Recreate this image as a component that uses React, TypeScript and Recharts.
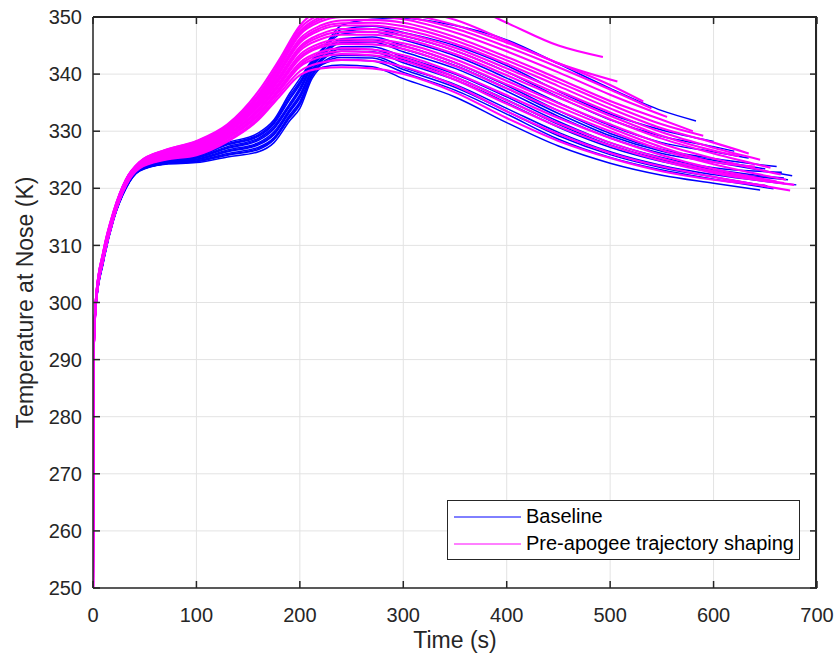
import React from "react";
import { LineChart, Line, XAxis, YAxis, CartesianGrid, Legend } from "recharts";

// time grid (s) shared by each bundle of runs
const baselineTimes = [0, 0.5, 3, 10, 20, 32, 45, 70, 100, 130, 160, 175, 190, 200, 212, 222, 240, 270, 300, 350, 400, 450, 500, 550, 600];
const shapingTimes = [0, 0.5, 3, 10, 20, 32, 45, 70, 100, 130, 160, 180, 200, 220, 240, 270, 300, 350, 400, 450, 500, 550, 600];

// nose temperature (K) per run
const baselineTemps = [
  [250, 290, 299.5, 307, 314.5, 320, 323, 324.2, 324.5, 325.5, 326.4, 328, 331.8, 334, 339.3, 341.2, 341.6, 341.3, 339.2, 336, 331.5, 327.4, 324.4, 322.3, 320.9],
  [250, 290, 299.6, 307.1, 314.6, 320.1, 323.1, 324.3, 324.7, 325.8, 326.8, 328.5, 332.3, 334.6, 339.7, 341.7, 342.5, 342.3, 340.3, 337.2, 333, 328.6, 325.4, 323.2, 321.6],
  [250, 290, 299.6, 307.2, 314.6, 320.1, 323.1, 324.3, 324.7, 325.9, 327, 328.7, 332.5, 334.9, 339.9, 341.9, 342.9, 342.8, 340.8, 337.7, 333.5, 329.2, 325.9, 323.6, 322],
  [250, 290, 299.7, 307.3, 314.7, 320.2, 323.2, 324.4, 324.8, 326.1, 327.2, 328.9, 332.8, 335.2, 340.1, 342.1, 343.3, 343.2, 341.2, 338.2, 334, 329.8, 326.4, 324, 322.4],
  [250, 290, 299.8, 307.4, 314.8, 320.3, 323.3, 324.5, 325, 326.4, 327.6, 329.4, 333.3, 335.8, 340.5, 342.5, 344, 343.9, 342, 339, 335, 330.7, 327.2, 324.7, 323],
  [250, 290, 299.8, 307.5, 314.8, 320.3, 323.3, 324.5, 325, 326.5, 327.8, 329.6, 333.5, 336.1, 340.7, 342.7, 344.4, 344.3, 342.5, 339.5, 335.5, 331.2, 327.6, 325, 323.3],
  [250, 290, 299.9, 307.6, 314.9, 320.4, 323.4, 324.6, 325.1, 326.7, 328, 329.9, 333.8, 336.4, 340.9, 342.9, 344.8, 344.8, 343, 340, 336, 331.7, 328, 325.4, 323.6],
  [250, 290, 300, 307.7, 315, 320.5, 323.5, 324.7, 325.3, 327, 328.4, 330.4, 334.3, 337, 341.3, 343.3, 345.5, 345.6, 343.9, 341, 337, 332.6, 328.8, 326.1, 324.6],
  [250, 290, 300, 307.8, 315, 320.5, 323.5, 324.7, 325.3, 327.1, 328.6, 330.6, 334.5, 337.3, 341.5, 343.5, 345.9, 346, 344.4, 341.5, 337.5, 333.1, 329.2, 326.5, 324.9],
  [250, 290, 300.1, 307.9, 315.1, 320.6, 323.6, 324.8, 325.4, 327.3, 328.8, 330.9, 334.8, 337.6, 341.7, 343.7, 346.2, 346.5, 345, 342, 338, 333.6, 329.6, 326.8, 325.2],
  [250, 290, 300.2, 308, 315.2, 320.7, 323.7, 324.9, 325.6, 327.6, 329.1, 331.3, 335.5, 338.1, 342, 344.1, 347, 347.4, 346, 343.2, 339.3, 335, 331, 328, 326.4],
  [250, 290, 300.3, 308.1, 315.2, 320.7, 323.7, 324.9, 325.6, 327.7, 329.2, 331.5, 335.8, 338.4, 342.2, 344.2, 347.4, 347.9, 346.7, 344.1, 340.4, 336, 332, 329.1, 327.3],
  [250, 290, 300.4, 308.2, 315.3, 320.8, 323.8, 325, 325.7, 327.8, 329.4, 331.7, 336.2, 338.7, 342.3, 344.4, 347.8, 348.4, 347.3, 345, 341.5, 337, 333, 330.2],
  [250, 290, 300.5, 308.3, 315.3, 320.8, 323.8, 325, 325.8, 328, 329.7, 332, 336.6, 339.2, 342.5, 344.5, 348.5, 349.6, 349.8, 348.5, 346, 341.8, 337.5, 333.6],
];
const baselineEnds = [
  [645, 319.7], [658, 319.9], [652, 320.4], [680, 320.6], [672, 321.5], [668, 321.8], [666, 322.8],
  [676, 322.2], [650, 323.4], [661, 323.8], [634, 325.3], [620, 326.5], [600, 328.2], [583, 331.8],
];

const shapingTemps = [
  [250, 290, 300, 307.5, 314.8, 320.5, 323.5, 325, 325.8, 328.2, 332, 336, 339.8, 341, 341.2, 341, 340, 336.8, 332.3, 328.3, 325.3, 323, 321.5],
  [250, 290, 300.1, 307.6, 314.9, 320.6, 323.6, 325.1, 326, 328.4, 332.3, 336.5, 340.5, 342, 342.5, 342.3, 341.3, 338, 333.5, 329.5, 326.2, 323.8, 322],
  [250, 290, 300.2, 307.7, 315, 320.7, 323.7, 325.2, 326.2, 328.7, 332.7, 337, 341.3, 343, 343.5, 343.3, 342.3, 339, 334.8, 330.8, 327.5, 324.8, 322.7],
  [250, 290, 300.2, 307.7, 315, 320.7, 323.7, 325.3, 326.3, 328.9, 332.9, 337.3, 341.6, 343.5, 344, 343.8, 342.8, 339.5, 335.4, 331.4, 328, 325.2, 323],
  [250, 290, 300.3, 307.8, 315.1, 320.8, 323.8, 325.4, 326.4, 329, 333.1, 337.5, 342, 343.9, 344.5, 344.3, 343.3, 340.2, 336.3, 332.3, 328.8, 325.8, 323.4],
  [250, 290, 300.4, 308, 315.2, 320.9, 323.9, 325.6, 326.6, 329.3, 333.5, 338, 342.7, 344.7, 345.3, 345.2, 344.4, 341.4, 337.5, 333.6, 330, 326.7, 324.2],
  [250, 290, 300.4, 308, 315.2, 321, 324, 325.6, 326.7, 329.4, 333.7, 338.2, 343, 345, 345.7, 345.7, 344.9, 342, 338.2, 334.3, 330.6, 327.2, 324.6],
  [250, 290, 300.5, 308.1, 315.3, 321, 324, 325.7, 326.8, 329.5, 333.9, 338.5, 343.4, 345.4, 346.1, 346.1, 345.4, 342.6, 338.8, 334.9, 331.2, 327.8, 325.2],
  [250, 290, 300.6, 308.2, 315.4, 321.1, 324.1, 325.9, 327, 329.8, 334.3, 339, 344.1, 346.1, 346.9, 346.9, 346.2, 343.5, 339.8, 335.9, 332.1, 328.7, 326.1],
  [250, 290, 300.6, 308.3, 315.5, 321.2, 324.2, 326, 327.1, 329.9, 334.5, 339.3, 344.5, 346.6, 347.4, 347.4, 346.7, 344.1, 340.4, 336.5, 332.7, 329.2, 326.6],
  [250, 290, 300.7, 308.4, 315.5, 321.2, 324.2, 326, 327.2, 330, 334.7, 339.6, 344.8, 347, 347.9, 347.9, 347.2, 344.6, 341, 337.1, 333.3, 329.8, 327.1],
  [250, 290, 300.8, 308.5, 315.6, 321.3, 324.3, 326.2, 327.4, 330.3, 335, 340.1, 345.5, 347.7, 348.5, 348.5, 347.8, 345.3, 341.8, 337.9, 334, 330.5, 328],
  [250, 290, 300.8, 308.5, 315.6, 321.4, 324.4, 326.3, 327.5, 330.4, 335.2, 340.3, 345.8, 348.1, 348.9, 349, 348.4, 345.9, 342.4, 338.6, 334.7, 331.2],
  [250, 290, 300.9, 308.6, 315.7, 321.4, 324.4, 326.3, 327.6, 330.5, 335.4, 340.6, 346.2, 348.5, 349.4, 349.5, 349, 346.5, 343, 339.2, 335.3, 332],
  [250, 290, 301, 308.7, 315.8, 321.5, 324.5, 326.5, 327.8, 330.7, 335.8, 341.1, 346.9, 349.2, 350, 350.1, 349.6, 347.3, 344, 340.3, 336.4],
  [250, 290, 301, 308.8, 315.8, 321.5, 324.5, 326.5, 327.9, 330.8, 336, 341.3, 347.2, 349.6, 350.5, 350.6, 350.1, 348, 344.8, 341.2, 337.3],
  [250, 290, 301, 308.8, 315.9, 321.5, 324.5, 326.6, 328, 330.9, 336.2, 341.6, 347.5, 350, 350.9, 351, 350.6, 348.6, 345.5, 341.9, 338.1],
  [250, 290, 301, 308.9, 316, 321.6, 324.6, 326.7, 328.2, 331, 336.5, 342, 348, 350.5, 351.5, 352, 351.5, 349.5, 345.8, 341.9],
  [250, 290, 301, 309, 316, 321.6, 324.6, 326.7, 328.3, 331.2, 337, 342.5, 348.5, 351.5, 353, 354.5, 354.5, 353, 349, 345],
];
const shapingEnds = [
  [650, 320.5], [674, 319.6], [678, 320.6], [668, 320.9], [661, 321.2], [670, 321.5], [640, 323.8],
  [665, 322.4], [655, 323.6], [625, 325.6], [645, 325], [634, 326.1], [590, 329.2], [580, 330],
  [555, 332.5], [540, 334], [532, 335.2], [507, 338.7], [493, 343],
];

const xTicks = [0, 100, 200, 300, 400, 500, 600, 700];
const yTicks = [250, 260, 270, 280, 290, 300, 310, 320, 330, 340, 350];
const seriesNames = ["Baseline", "Pre-apogee trajectory shaping"];
const seriesColors = ["#0000ff", "#ff00ff"];

const FONT = "'Liberation Sans', Arial, sans-serif";
const INK = "#262626";
const X_MIN = 0, X_MAX = 700, Y_MIN = 250, Y_MAX = 350;

// plot box, follows from the chart size, margins and axis sizes below
const CHART_W = 838, CHART_H = 661;
const MARGIN = { top: 17, right: 21, bottom: 0, left: 0 };
const Y_AXIS_W = 93, X_AXIS_H = 73, TICK_PX = 7;
const PLOT_L = MARGIN.left + Y_AXIS_W;
const PLOT_T = MARGIN.top;
const PLOT_W = CHART_W - MARGIN.right - PLOT_L;
const PLOT_H = CHART_H - MARGIN.bottom - X_AXIS_H - PLOT_T;

function runPoints(times: number[], temps: number[], end: number[]) {
  const pts = temps.map((T, i) => ({ t: times[i], T }));
  pts.push({ t: end[0], T: end[1] });
  return pts;
}

const baselineRuns = baselineTemps.map((r, i) => runPoints(baselineTimes, r, baselineEnds[i]));
const shapingRuns = shapingTemps.map((r, i) => runPoints(shapingTimes, r, shapingEnds[i]));

// inward tick marks on all four sides (MATLAB box style)
function TickMarks() {
  const px = (v: number) => ((v - X_MIN) / (X_MAX - X_MIN)) * PLOT_W;
  const py = (v: number) => ((Y_MAX - v) / (Y_MAX - Y_MIN)) * PLOT_H;
  return (
    <svg
      width={PLOT_W}
      height={PLOT_H}
      style={{ position: "absolute", left: PLOT_L, top: PLOT_T, pointerEvents: "none", overflow: "visible" }}
    >
      <g stroke={INK} strokeWidth={1.5} fill="none">
        {xTicks.map((v) => (
          <g key={`x${v}`}>
            <line x1={px(v)} y1={PLOT_H} x2={px(v)} y2={PLOT_H - TICK_PX} />
            <line x1={px(v)} y1={0} x2={px(v)} y2={TICK_PX} />
          </g>
        ))}
        {yTicks.map((v) => (
          <g key={`y${v}`}>
            <line x1={0} y1={py(v)} x2={TICK_PX} y2={py(v)} />
            <line x1={PLOT_W} y1={py(v)} x2={PLOT_W - TICK_PX} y2={py(v)} />
          </g>
        ))}
      </g>
    </svg>
  );
}

function LegendBox() {
  return (
    <div
      style={{
        border: `1px solid ${INK}`,
        background: "#fff",
        width: 353,
        height: 60,
        boxSizing: "border-box",
        fontFamily: FONT,
        fontSize: 20,
        color: "#000",
        padding: "2px 0 0 6px",
      }}
    >
      {seriesNames.map((name, i) => (
        <div key={name} style={{ display: "flex", alignItems: "center", height: 27 }}>
          <svg width={67} height={6} style={{ marginRight: 5 }}>
            <line x1={0} y1={3} x2={67} y2={3} stroke={seriesColors[i]} strokeWidth={1} />
          </svg>
          <span>{name}</span>
        </div>
      ))}
    </div>
  );
}

export default function App() {
  const tickStyle = { fontFamily: FONT, fontSize: 20, fill: INK };
  return (
    <div style={{ position: "absolute", left: 0, top: 0, width: CHART_W, height: CHART_H, background: "#fff" }}>
      <LineChart width={CHART_W} height={CHART_H} margin={MARGIN}>
        <CartesianGrid stroke="#e3e3e3" strokeWidth={1} />
        <XAxis
          dataKey="t"
          type="number"
          domain={[X_MIN, X_MAX]}
          ticks={xTicks}
          allowDataOverflow
          height={X_AXIS_H}
          tick={tickStyle}
          tickLine={false}
          tickSize={0}
          tickMargin={20}
          stroke={INK}
          strokeWidth={1.5}
          label={{ value: "Time (s)", position: "insideBottom", offset: 13, style: { fontFamily: FONT, fontSize: 23, fill: INK } }}
        />
        <YAxis
          type="number"
          domain={[Y_MIN, Y_MAX]}
          ticks={yTicks}
          allowDataOverflow
          width={Y_AXIS_W}
          tick={tickStyle}
          tickLine={false}
          tickSize={0}
          tickMargin={11}
          stroke={INK}
          strokeWidth={1.5}
          label={{ value: "Temperature at Nose (K)", angle: -90, position: "insideLeft", offset: 25, style: { textAnchor: "middle", fontFamily: FONT, fontSize: 23, fill: INK } }}
        />
        {baselineRuns.map((run, i) => (
          <Line
            key={`b${i}`}
            data={run}
            dataKey="T"
            type="monotone"
            stroke={seriesColors[0]}
            strokeWidth={1.5}
            dot={false}
            activeDot={false}
            isAnimationActive={false}
          />
        ))}
        {shapingRuns.map((run, i) => (
          <Line
            key={`m${i}`}
            data={run}
            dataKey="T"
            type="monotone"
            stroke={seriesColors[1]}
            strokeWidth={2.1}
            dot={false}
            activeDot={false}
            isAnimationActive={false}
          />
        ))}
        <Legend
          layout="horizontal"
          verticalAlign="middle"
          align="center"
          wrapperStyle={{ left: 447, top: 500, width: 353, height: 60 }}
          content={() => <LegendBox />}
        />
      </LineChart>
      {/* top and right edges of the axes box */}
      <div
        style={{
          position: "absolute",
          left: PLOT_L,
          top: PLOT_T - 1,
          width: PLOT_W,
          height: PLOT_H + 1,
          borderTop: `2px solid ${INK}`,
          borderRight: `2px solid ${INK}`,
          boxSizing: "border-box",
          pointerEvents: "none",
        }}
      />
      <TickMarks />
    </div>
  );
}
